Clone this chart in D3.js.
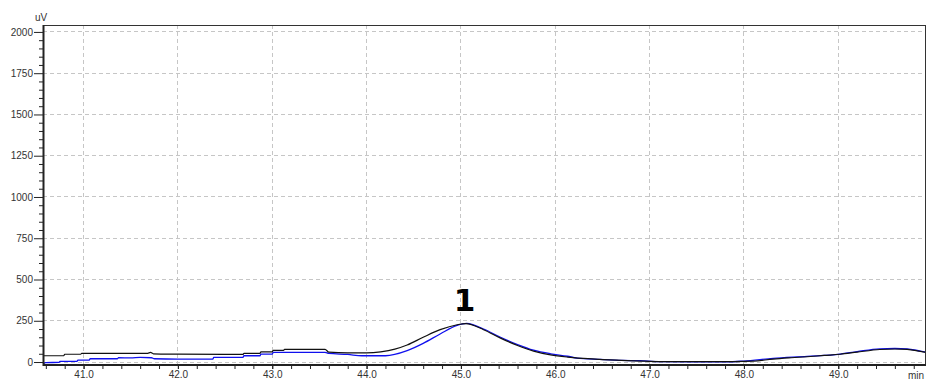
<!DOCTYPE html>
<html>
<head>
<meta charset="utf-8">
<script src="https://cdn.jsdelivr.net/npm/d3@7"></script>
<style>
  html, body { margin: 0; padding: 0; background: #fff; }
  svg { display: block; }
  .tick text { font-family: "Liberation Sans", Arial, sans-serif; font-size: 10px; fill: #333; }
</style>
</head>
<body>
<svg id="chart" width="928" height="385"></svg>
<script>
// Retention time (min) and detector signal (uV) for the two overlaid traces
const blackTime = [40.57, 40.79, 40.80, 40.97, 40.98, 41.68, 41.71, 41.74, 42.0, 42.5, 42.69, 42.70, 42.87, 42.88, 43.0, 43.01, 43.12, 43.13, 43.56, 43.60, 43.8, 44.0, 44.15, 44.3, 44.43, 44.6, 44.78, 44.96, 45.05, 45.24, 45.42, 45.6, 45.77, 45.95, 46.13, 46.3, 46.5, 46.7, 46.9, 47.1, 47.5, 47.9, 48.1, 48.31, 48.5, 48.67, 48.85, 49.02, 49.2, 49.44, 49.6, 49.73, 49.87, 49.93];
const blackUV   = [38, 38, 47, 47, 53, 53, 58, 50, 48, 46, 46, 53, 53, 61, 61, 71, 71, 77, 77, 60, 56, 56, 62, 78, 103, 150, 196, 226, 233, 196, 145, 100, 66, 43, 30, 22, 15, 10, 6, 3, 2, 2, 5, 18, 26, 32, 40, 47, 60, 76, 79, 77, 64, 58];

const blueTime = [40.57, 40.60, 40.74, 40.75, 40.93, 40.94, 41.06, 41.07, 41.36, 41.37, 41.5, 41.6, 41.72, 41.75, 42.0, 42.37, 42.38, 42.69, 42.70, 42.87, 42.88, 43.0, 43.01, 43.56, 43.6, 43.8, 43.95, 44.2, 44.43, 44.6, 44.78, 44.96, 45.06, 45.24, 45.42, 45.6, 45.77, 45.95, 46.13, 46.23, 46.48, 46.71, 46.9, 47.11, 47.5, 47.82, 48.0, 48.31, 48.67, 49.02, 49.2, 49.44, 49.6, 49.73, 49.87, 49.93];
const blueUV   = [-12, -4, -2, 4, 4, 12, 12, 20, 20, 26, 25, 28, 26, 20, 18, 18, 28, 28, 38, 38, 48, 48, 59, 59, 52, 46, 38, 38, 69, 113, 170, 222, 234, 200, 150, 106, 72, 50, 35, 24, 16, 10, 8, 2, 1, 1, 6, 22, 34, 48, 63, 80, 82, 80, 66, 60];

// Axis settings
const xMajorTicks = [41, 42, 43, 44, 45, 46, 47, 48, 49];
const yMajorTicks = [0, 250, 500, 750, 1000, 1250, 1500, 1750, 2000];
const xUnit = "min";
const yUnit = "uV";

// Peak annotation
const peakLabels = ["1"];
const peakTimes = [45.05];
const peakValues = [235];

const svg = d3.select("#chart");
const plotLeft = 43, plotRight = 926, plotTop = 25, plotBottom = 365;

const x = d3.scaleLinear().domain([40.57, 49.93]).range([plotLeft, plotRight]);
const y = d3.scaleLinear().domain([-18, 2042]).range([plotBottom, plotTop]);

const gridColor = "#c6c6c6";

// Grid lines
svg.append("g").selectAll("line")
  .data(xMajorTicks).join("line")
  .attr("x1", d => x(d)).attr("x2", d => x(d))
  .attr("y1", plotTop).attr("y2", plotBottom)
  .attr("stroke", gridColor).attr("stroke-width", 1)
  .attr("stroke-dasharray", "4,3")
  .attr("shape-rendering", "crispEdges");

svg.append("g").selectAll("line")
  .data(yMajorTicks).join("line")
  .attr("x1", plotLeft).attr("x2", plotRight)
  .attr("y1", d => y(d)).attr("y2", d => y(d))
  .attr("stroke", gridColor).attr("stroke-width", 1)
  .attr("stroke-dasharray", "4,3")
  .attr("shape-rendering", "crispEdges");

// Traces
const line = d3.line().x(d => x(d[0])).y(d => y(d[1])).curve(d3.curveMonotoneX);
svg.append("clipPath").attr("id", "plotclip")
  .append("rect").attr("x", plotLeft).attr("y", plotTop)
  .attr("width", plotRight - plotLeft).attr("height", plotBottom - plotTop);

const traces = svg.append("g").attr("clip-path", "url(#plotclip)");
traces.append("path")
  .datum(d3.zip(blueTime, blueUV))
  .attr("fill", "none").attr("stroke", "#1010ee").attr("stroke-width", 1.3)
  .attr("d", line);
traces.append("path")
  .datum(d3.zip(blackTime, blackUV))
  .attr("fill", "none").attr("stroke", "#111").attr("stroke-width", 1.2)
  .attr("d", line);

// Axes
const xMinor = d3.range(40.6, 49.95, 0.2).map(v => +v.toFixed(1));
const yMinor = d3.range(0, 2001, 50);

const xAxis = svg.append("g").attr("transform", `translate(0,${plotBottom})`)
  .call(d3.axisBottom(x).tickValues(xMinor).tickSize(4).tickFormat(""));
xAxis.select(".domain").remove();
xAxis.selectAll(".tick line").attr("stroke", "#222");

const xLabels = svg.append("g").attr("transform", `translate(0,${plotBottom})`)
  .call(d3.axisBottom(x).tickValues(xMajorTicks).tickSize(4).tickPadding(2).tickFormat(d3.format(".1f")));
xLabels.select(".domain").remove();
xLabels.selectAll(".tick line").attr("stroke", "#222");

const yAxis = svg.append("g").attr("transform", `translate(${plotLeft},0)`)
  .call(d3.axisLeft(y).tickValues(yMinor.filter(v => v % 250 !== 0)).tickSize(4).tickFormat(""));
yAxis.select(".domain").remove();
yAxis.selectAll(".tick line").attr("stroke", "#222");

const yLabels = svg.append("g").attr("transform", `translate(${plotLeft},0)`)
  .call(d3.axisLeft(y).tickValues(yMajorTicks).tickSize(9).tickPadding(1).tickFormat(d3.format("d")));
yLabels.select(".domain").remove();
yLabels.selectAll(".tick line").attr("stroke", "#222");

// Frame
svg.append("rect")
  .attr("x", plotLeft + 0.5).attr("y", plotTop + 0.5)
  .attr("width", plotRight - plotLeft - 1).attr("height", plotBottom - plotTop - 1)
  .attr("fill", "none").attr("stroke", "#333").attr("stroke-width", 1);
svg.append("line")
  .attr("x1", plotLeft + 0.5).attr("x2", plotLeft + 0.5).attr("y1", plotTop).attr("y2", plotBottom + 1)
  .attr("stroke", "#222").attr("stroke-width", 2);
svg.append("line")
  .attr("x1", plotLeft).attr("x2", plotRight).attr("y1", plotBottom).attr("y2", plotBottom)
  .attr("stroke", "#222").attr("stroke-width", 2);

// Unit labels
svg.append("text").attr("x", plotLeft - 8).attr("y", plotTop - 4)
  .attr("font-family", "Liberation Sans, Arial, sans-serif").attr("font-size", 10).attr("fill", "#333")
  .text(yUnit);
svg.append("text").attr("x", plotRight - 2).attr("y", plotBottom + 14).attr("text-anchor", "end")
  .attr("font-family", "Liberation Sans, Arial, sans-serif").attr("font-size", 10).attr("fill", "#333")
  .text(xUnit);

// Peak numbers
svg.append("g").selectAll("text")
  .data(peakLabels).join("text")
  .attr("x", (d, i) => x(peakTimes[i]) - 1)
  .attr("y", (d, i) => y(peakValues[i]) - 12)
  .attr("text-anchor", "middle")
  .attr("font-family", "DejaVu Sans, sans-serif")
  .attr("font-weight", "bold").attr("font-size", 31).attr("fill", "#000")
  .text(d => d);
</script>
</body>
</html>
